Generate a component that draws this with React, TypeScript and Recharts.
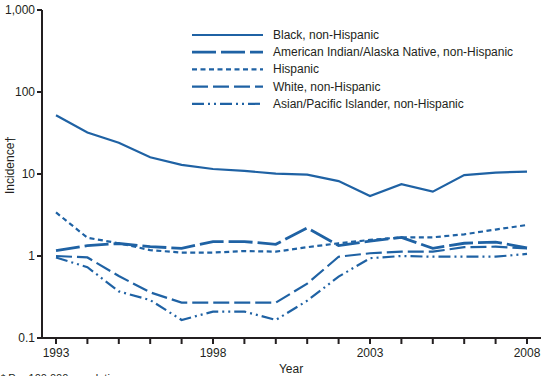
import { LineChart, Line, XAxis, YAxis, Customized } from "recharts";

const years = [1993, 1994, 1995, 1996, 1997, 1998, 1999, 2000, 2001, 2002, 2003, 2004, 2005, 2006, 2007, 2008];
const black = [52, 32, 24, 16, 12.9, 11.5, 10.9, 10.1, 9.8, 8.2, 5.4, 7.5, 6.1, 9.7, 10.4, 10.7];
const amIndian = [1.16, 1.34, 1.42, 1.3, 1.24, 1.5, 1.5, 1.39, 2.2, 1.34, 1.52, 1.69, 1.24, 1.43, 1.48, 1.26];
const hispanic = [3.4, 1.67, 1.43, 1.18, 1.1, 1.1, 1.15, 1.13, 1.28, 1.43, 1.57, 1.69, 1.69, 1.84, 2.1, 2.39];
const white = [1.0, 0.96, 0.57, 0.36, 0.27, 0.27, 0.27, 0.27, 0.46, 0.98, 1.08, 1.13, 1.13, 1.28, 1.3, 1.24];
const asian = [0.96, 0.73, 0.37, 0.29, 0.166, 0.21, 0.21, 0.166, 0.285, 0.56, 0.94, 1.0, 0.98, 0.98, 0.98, 1.06];

const yTicks = [0.1, 1, 10, 100, 1000];
const labeledYears = [1993, 1998, 2003, 2008];

const BLUE = "#1f62a4";
const INK = "#231f20";
const FONT = "'Liberation Sans', Arial, sans-serif";

const series = [
  { key: "black", name: "Black, non-Hispanic", dash: undefined, width: 2.2 },
  { key: "amIndian", name: "American Indian/Alaska Native, non-Hispanic", dash: "24 5", width: 2.8 },
  { key: "hispanic", name: "Hispanic", dash: "5 3.5", width: 2.2 },
  { key: "white", name: "White, non-Hispanic", dash: "16 5", width: 2.2 },
  { key: "asian", name: "Asian/Pacific Islander, non-Hispanic", dash: "12 4 2 4 2 4", width: 2.2 },
];

const data = years.map((y, i) => ({
  year: y,
  black: black[i],
  amIndian: amIndian[i],
  hispanic: hispanic[i],
  white: white[i],
  asian: asian[i],
}));

const fmtY = (v: number) => (v === 1000 ? "1,000" : String(v));

// legend + axis titles + footnote, drawn on top of the chart svg
const Extras = () => (
  <g fontFamily={FONT} fill={INK}>
    <g transform="translate(192 26)">
      {series.map((s, i) => (
        <g key={s.key}>
          <line
            x1={0}
            x2={71}
            y1={9 + i * 17.2}
            y2={9 + i * 17.2}
            stroke={BLUE}
            strokeWidth={s.width}
            strokeDasharray={s.dash}
          />
          <text x={81} y={13 + i * 17.2} fontSize={12}>
            {s.name}
          </text>
        </g>
      ))}
    </g>
    <text x={14} y={165} fontSize={12} textAnchor="middle" transform="rotate(-90 14 165)">
      Incidence†
    </text>
    <text x={291} y={373} fontSize={12} textAnchor="middle">
      Year
    </text>
    <text x={1} y={382} fontSize={11}>
      * Per 100,000 population.
    </text>
  </g>
);

export default function App() {
  return (
    <div style={{ position: "absolute", left: 0, top: 0, width: 553, height: 376, overflow: "hidden", background: "#fff" }}>
      <LineChart width={553} height={376} data={data} margin={{ top: 10, right: 12, bottom: 0, left: 0 }}>
        <XAxis
          dataKey="year"
          type="number"
          domain={[1993, 2008]}
          ticks={years}
          interval={0}
          padding={{ left: 14, right: 14 }}
          tickFormatter={(v: number) => (labeledYears.includes(v) ? String(v) : "")}
          tick={{ fontSize: 12, fontFamily: FONT, fill: INK }}
          axisLine={{ stroke: INK, strokeWidth: 2 }}
          tickLine={{ stroke: INK, strokeWidth: 2 }}
          tickSize={6}
          tickMargin={4}
          height={38}
        />
        <XAxis
          xAxisId="top"
          orientation="top"
          dataKey="year"
          type="number"
          domain={[1993, 2008]}
          tick={false}
          tickLine={false}
          axisLine={{ stroke: INK, strokeWidth: 2 }}
          height={0}
        />
        <YAxis
          scale="log"
          domain={[0.1, 1000]}
          ticks={yTicks}
          allowDataOverflow
          interval={0}
          tickFormatter={fmtY}
          tick={{ fontSize: 12, fontFamily: FONT, fill: INK }}
          axisLine={{ stroke: INK, strokeWidth: 2 }}
          tickLine={{ stroke: INK, strokeWidth: 2 }}
          tickSize={5}
          tickMargin={2}
          width={42}
        />
        <YAxis
          yAxisId="right"
          orientation="right"
          scale="log"
          domain={[0.1, 1000]}
          allowDataOverflow
          tick={false}
          tickLine={false}
          axisLine={{ stroke: INK, strokeWidth: 2 }}
          width={0}
        />
        {series.map((s) => (
          <Line
            key={s.key}
            dataKey={s.key}
            name={s.name}
            stroke={BLUE}
            strokeWidth={s.width}
            strokeDasharray={s.dash}
            dot={false}
            activeDot={false}
            isAnimationActive={false}
          />
        ))}
        <Customized component={Extras} />
      </LineChart>
    </div>
  );
}
